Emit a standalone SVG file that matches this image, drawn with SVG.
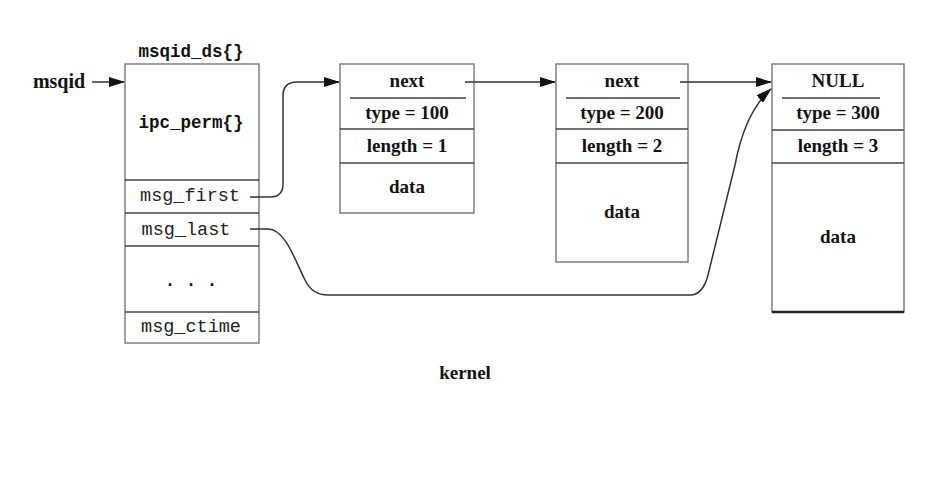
<svg xmlns="http://www.w3.org/2000/svg" width="942" height="489" viewBox="0 0 942 489">
<defs>
<marker id="ah" markerWidth="16" markerHeight="10" refX="15" refY="5" orient="auto" markerUnits="userSpaceOnUse">
<path d="M0,0 L16,5 L0,10 Z" fill="#111"/>
</marker>
<style>
.box{fill:#fff;stroke:#777;stroke-width:1.4}
.div{stroke:#444;stroke-width:1.4}
.ser{font-family:"Liberation Serif","Times New Roman",serif;font-size:19px;fill:#111;text-anchor:middle;font-weight:bold}
.mono{font-family:"Liberation Mono","Courier New",monospace;font-size:18.5px;fill:#222;text-anchor:middle}
.monob{font-family:"Liberation Mono","Courier New",monospace;font-size:17.5px;fill:#111;text-anchor:middle;font-weight:bold}
.con{fill:none;stroke:#333;stroke-width:1.5}
</style>
</defs>
<rect width="942" height="489" fill="#fff"/>

<g id="msqid_ds">
<text class="monob" x="191" y="57">msqid_ds{}</text>
<rect class="box" x="125" y="64" width="134" height="279"/>
<line class="div" x1="125" y1="180" x2="259" y2="180"/>
<line class="div" x1="125" y1="213" x2="259" y2="213" stroke="#999"/>
<line class="div" x1="125" y1="246" x2="259" y2="246"/>
<line class="div" x1="125" y1="312" x2="259" y2="312"/>
<text class="monob" x="191" y="128">ipc_perm{}</text>
<text class="mono" x="190" y="201">msg_first</text>
<text class="mono" x="186" y="235">msg_last</text>
<text class="monob" x="191" y="286">. . .</text>
<text class="mono" x="191" y="332">msg_ctime</text>
</g>

<g id="msqid_label">
<text class="ser" x="59" y="88" style="font-size:20px">msqid</text>
</g>

<g id="msg1">
<rect class="box" x="340" y="64" width="134" height="149"/>
<line class="div" x1="350" y1="98" x2="466" y2="98"/>
<line class="div" x1="340" y1="129" x2="474" y2="129"/>
<line class="div" x1="340" y1="163" x2="474" y2="163"/>
<text class="ser" x="407" y="87">next</text>
<text class="ser" x="407" y="119">type = 100</text>
<text class="ser" x="407" y="152">length = 1</text>
<text class="ser" x="407" y="193">data</text>
</g>

<g id="msg2">
<rect class="box" x="556" y="64" width="132" height="198"/>
<line class="div" x1="566" y1="98" x2="680" y2="98"/>
<line class="div" x1="556" y1="129" x2="688" y2="129"/>
<line class="div" x1="556" y1="163" x2="688" y2="163"/>
<text class="ser" x="622" y="87">next</text>
<text class="ser" x="622" y="119">type = 200</text>
<text class="ser" x="622" y="152">length = 2</text>
<text class="ser" x="622" y="218">data</text>
</g>

<g id="msg3">
<rect class="box" x="772" y="64" width="132" height="248"/>
<line class="div" x1="782" y1="98" x2="880" y2="98"/>
<line class="div" x1="772" y1="130" x2="904" y2="130"/>
<line class="div" x1="772" y1="163" x2="904" y2="163"/>
<line x1="772" y1="312" x2="904" y2="312" stroke="#222" stroke-width="2.5"/>
<text class="ser" x="838" y="87">NULL</text>
<text class="ser" x="838" y="119">type = 300</text>
<text class="ser" x="838" y="152">length = 3</text>
<text class="ser" x="838" y="243">data</text>
</g>

<g id="kernel">
<text class="ser" x="465" y="379">kernel</text>
</g>

<g id="connectors">
<line class="con" x1="92" y1="82" x2="124" y2="82" marker-end="url(#ah)"/>
<path class="con" d="M250 197 H270 Q283 197 283 184 V96 Q283 82 297 82 H339" marker-end="url(#ah)"/>
<line class="con" x1="465" y1="82" x2="555" y2="82" marker-end="url(#ah)"/>
<line class="con" x1="680" y1="82" x2="771" y2="82" marker-end="url(#ah)"/>
<path class="con" d="M250 229 H268 C285 229 295 260 305 280 Q312 295 328 295 H690 Q703 295 708 275 L735 165 Q745 112 771 89" marker-end="url(#ah)"/>
</g>
</svg>
